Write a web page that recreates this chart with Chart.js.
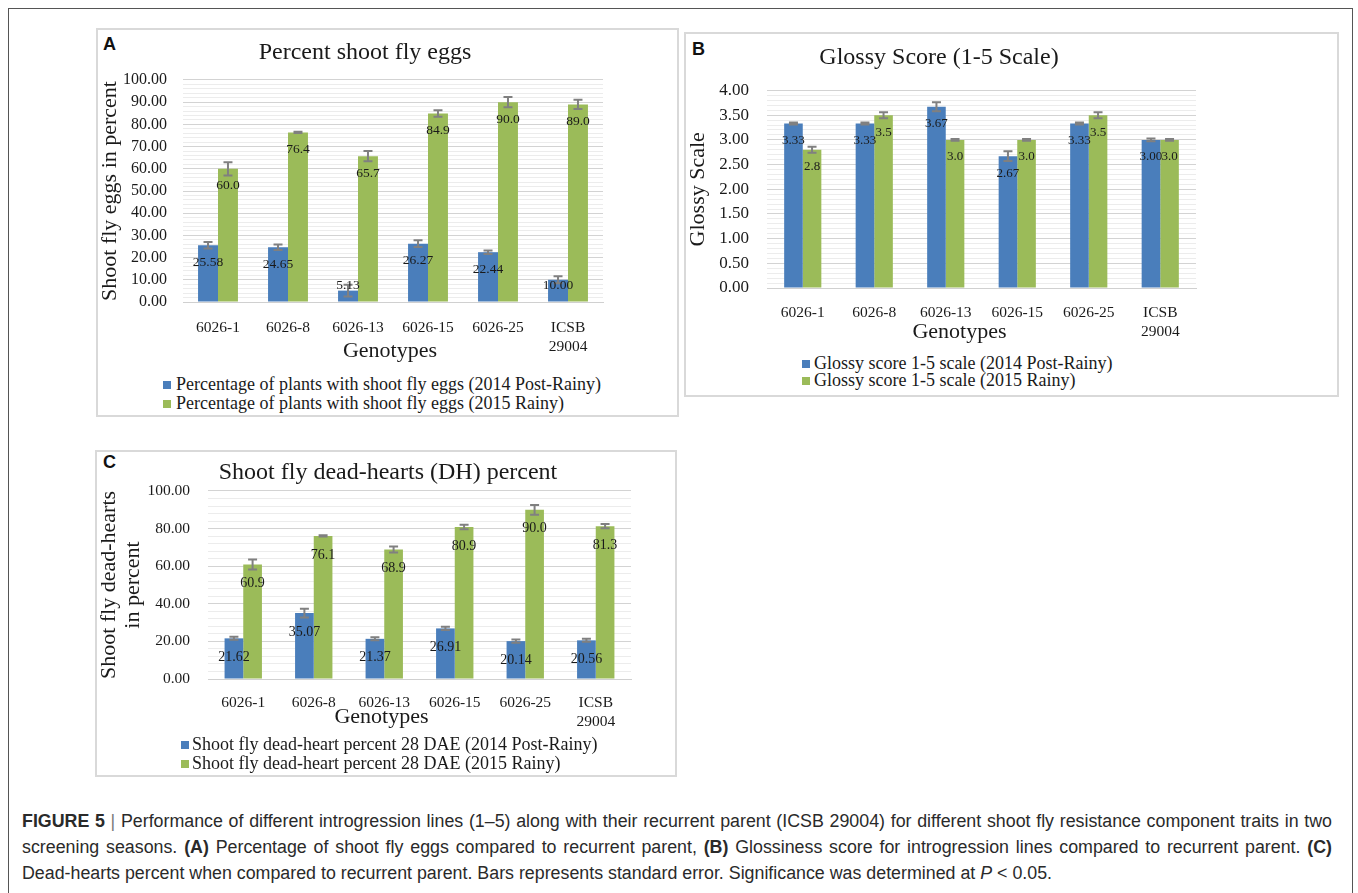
<!DOCTYPE html>
<html><head><meta charset="utf-8">
<script src="https://cdn.jsdelivr.net/npm/chart.js@4.4.1/dist/chart.umd.min.js"></script>
<style>
body{margin:0;background:#fff;width:1358px;height:893px;overflow:hidden;position:relative;font-family:"Liberation Serif","Times New Roman",serif;}
.frame{position:absolute;left:8px;top:8px;width:1345px;height:900px;border:1px solid #555;border-bottom:none;box-sizing:border-box;}
.box{position:absolute;border:2px solid #d9d9d9;box-sizing:border-box;}
.letter{position:absolute;font:bold 18px "Liberation Sans",Arial,sans-serif;color:#111;line-height:20px;}
canvas{position:absolute;}
.lg{position:absolute;color:#1a1a1a;white-space:nowrap;}
.sw{position:absolute;width:8px;height:8px;}
.cap{position:absolute;left:22px;height:28px;line-height:28px;font-family:"Liberation Sans",Arial,sans-serif;color:#2a2a2a;white-space:nowrap;font-size:18px;transform-origin:0 50%;}
.cap b{font-weight:bold;}
</style></head>
<body>
<div class="frame"></div>
<div class="box" style="left:96px;top:28px;width:583px;height:389px"></div>
<div class="box" style="left:684px;top:32px;width:655px;height:365px"></div>
<div class="box" style="left:95px;top:450px;width:582px;height:327px"></div>
<div class="letter" style="left:103px;top:34px">A</div>
<div class="letter" style="left:692px;top:39px">B</div>
<div class="letter" style="left:103px;top:452px">C</div>
<canvas id="cA"></canvas>
<canvas id="cB"></canvas>
<canvas id="cC"></canvas>
<div id="legends"></div>
<div id="caption"></div>
<script>
// ---------- DATA ----------
const categories = ['6026-1','6026-8','6026-13','6026-15','6026-25',['ICSB','29004']];

const eggs2014    = [25.58, 24.65, 5.13, 26.27, 22.44, 10.00];
const eggs2014Err = [1.5, 1.2, 2.6, 1.5, 0.8, 1.6];
const eggs2015    = [60.0, 76.4, 65.7, 84.9, 90.0, 89.0];
const eggs2015Err = [3.0, 0.3, 2.3, 1.5, 2.3, 2.1];

const glossy2014    = [3.33, 3.33, 3.67, 2.67, 3.33, 3.00];
const glossy2014Err = [0.02, 0.02, 0.09, 0.10, 0.02, 0.03];
const glossy2015    = [2.8, 3.5, 3.0, 3.0, 3.5, 3.0];
const glossy2015Err = [0.06, 0.06, 0.02, 0.02, 0.06, 0.02];

const dh2014    = [21.62, 35.07, 21.37, 26.91, 20.14, 20.56];
const dh2014Err = [0.8, 2.3, 0.8, 0.9, 0.9, 0.8];
const dh2015    = [60.9, 76.1, 68.9, 80.9, 90.0, 81.3];
const dh2015Err = [2.7, 0.3, 1.6, 1.2, 2.6, 1.1];

const ticksEggs   = {max: 100, minor: 2,   major: 10};
const ticksGlossy = {max: 4,   minor: 0.1, major: 0.5};
const ticksDH     = {max: 100, minor: 4,   major: 20};

const legendEggs   = ['Percentage of plants with shoot fly eggs (2014 Post-Rainy)','Percentage of plants with shoot fly eggs (2015 Rainy)'];
const legendGlossy = ['Glossy score 1-5 scale (2014 Post-Rainy)','Glossy score 1-5 scale (2015 Rainy)'];
const legendDH     = ['Shoot fly dead-heart percent 28 DAE (2014 Post-Rainy)','Shoot fly dead-heart percent 28 DAE (2015 Rainy)'];

// ---------- STYLE ----------
const SERIF = '"Liberation Serif","Times New Roman",serif';
const BLUE = '#4a7ebb', GREEN = '#9bbb59', TXT = '#1a1a1a';

const barExtras = {
  id: 'barExtras',
  afterDatasetsDraw(chart, args, o) {
    const ctx = chart.ctx, y = chart.scales.y;
    ctx.save();
    ctx.strokeStyle = '#808080'; ctx.lineWidth = 2;
    chart.data.datasets.forEach((ds, di) => {
      chart.getDatasetMeta(di).data.forEach((bar, i) => {
        const v = ds.data[i], e = ds.err[i];
        const t = y.getPixelForValue(v + e), b = y.getPixelForValue(v - e);
        ctx.beginPath();
        ctx.moveTo(bar.x, t); ctx.lineTo(bar.x, b);
        ctx.moveTo(bar.x - o.cap, t); ctx.lineTo(bar.x + o.cap, t);
        ctx.moveTo(bar.x - o.cap, b); ctx.lineTo(bar.x + o.cap, b);
        ctx.stroke();
      });
    });
    ctx.fillStyle = TXT; ctx.font = o.font + 'px ' + SERIF;
    ctx.textAlign = 'center'; ctx.textBaseline = 'middle';
    chart.data.datasets.forEach((ds, di) => {
      chart.getDatasetMeta(di).data.forEach((bar, i) => {
        const ly = Math.min(bar.y + o.drop, bar.base - o.rise);
        ctx.fillText(ds.data[i].toFixed(ds.dec), bar.x, ly);
      });
    });
    // x-axis title, placed relative to the plot area
    const xs = chart.scales.x, a = chart.chartArea;
    ctx.font = o.xTitleFont + 'px ' + SERIF;
    ctx.fillText(o.xTitle, (a.left + a.right) / 2 + o.xTitleShift, xs.bottom - o.xTitleFont * 0.6);
    ctx.restore();
  }
};

function makeChart(id, L, S) {
  const cv = document.getElementById(id);
  cv.width = L.cw; cv.height = L.ch;
  cv.style.left = L.cx + 'px'; cv.style.top = L.cy + 'px';
  const tLH = L.titleFont * 1.2;
  const tPadTop = L.titleY - L.cy - tLH / 2;
  const tPadBot = L.areaTop - (L.cy + tPadTop + tLH);
  const ytLH = L.yTitleFont * L.yTitleLH;
  const yTitlePad = L.yTitleX - L.cx - ytLH / 2;
  const xtLH = L.xTickFont * 1.2;
  const xTickPad = L.xTickY - L.areaBottom - xtLH / 2;
  const gLH = L.xTitleFont * 1.2;
  const xH = L.xTitleY + gLH / 2 - L.areaBottom;
  const isMajor = v => Math.abs(v / S.ticks.major - Math.round(v / S.ticks.major)) < 1e-6;
  return new Chart(cv, {
    type: 'bar',
    data: {
      labels: S.labels,
      datasets: S.sets.map(s => ({
        label: s.label, data: s.data, err: s.err, dec: s.dec,
        backgroundColor: s.color, borderWidth: 0,
        categoryPercentage: L.catPct, barPercentage: 1,
        xAxisID: 'x', yAxisID: 'y'
      }))
    },
    options: {
      responsive: false, animation: false, devicePixelRatio: 1,
      layout: {padding: {left: 0, right: 0, top: 0, bottom: L.cy + L.ch - (L.areaBottom + xH)}},
      plugins: {
        legend: {display: false}, tooltip: {enabled: false},
        title: {display: true, text: S.title, color: TXT,
          font: {family: SERIF, size: L.titleFont, weight: 'normal'},
          padding: {top: tPadTop, bottom: tPadBot}},
        barExtras: {cap: 4.5, font: L.labelFont, drop: L.drop, rise: L.rise,
          xTitle: 'Genotypes', xTitleFont: L.xTitleFont, xTitleShift: L.xTitleShift}
      },
      scales: {
        x: {
          grid: {display: false}, border: {color: '#d0d0d0', width: 1},
          ticks: {color: TXT, font: {family: SERIF, size: L.xTickFont}, padding: xTickPad, maxRotation: 0, autoSkip: false},
          title: {display: false},
          afterFit: s => { s.height = xH; }
        },
        y: {
          min: 0, max: S.ticks.max,
          ticks: {stepSize: S.ticks.minor, autoSkip: false, maxTicksLimit: 1000, color: TXT,
            font: {family: SERIF, size: L.yTickFont}, padding: L.areaLeft - L.yTickRight,
            callback: v => isMajor(v) ? Number(v).toFixed(2) : ''},
          grid: {drawTicks: false, lineWidth: 1, color: c => (c.tick && isMajor(c.tick.value)) ? '#d3d3d3' : '#ececec'},
          border: {display: false},
          title: {display: true, text: S.yTitle, color: TXT,
            font: {family: SERIF, size: L.yTitleFont, lineHeight: L.yTitleLH}, padding: {top: yTitlePad, bottom: 0}},
          afterFit: s => { s.width = L.areaLeft - L.cx; }
        },
        pad: {
          type: 'linear', position: 'right', display: true,
          grid: {display: false}, border: {display: false}, ticks: {display: false},
          afterFit: s => { s.width = L.cx + L.cw - L.areaRight; }
        }
      }
    },
    plugins: [barExtras]
  });
}

function addLegend(items, colors, G) {
  const host = document.getElementById('legends');
  items.forEach((t, i) => {
    const cy = G.rows[i];
    const sw = document.createElement('div');
    sw.className = 'sw'; sw.style.background = colors[i];
    sw.style.left = G.sq + 'px'; sw.style.top = (cy - 4) + 'px';
    host.appendChild(sw);
    const d = document.createElement('div');
    d.className = 'lg'; d.textContent = t;
    d.style.left = G.tx + 'px'; d.style.top = (cy - G.font * 0.6) + 'px';
    d.style.fontSize = G.font + 'px'; d.style.lineHeight = (G.font * 1.2) + 'px';
    host.appendChild(d);
  });
}

// ---------- PANEL A ----------
makeChart('cA',
  {cx: 96, cy: 28, cw: 538, ch: 340, areaLeft: 183, areaRight: 603, areaTop: 80, areaBottom: 302,
   titleFont: 24, titleY: 53, yTitleFont: 22, yTitleLH: 1.2, yTitleX: 110, yTickRight: 167, yTickFont: 16,
   xTickFont: 15.5, xTickY: 320, xTitleFont: 22, xTitleY: 351, xTitleShift: -3,
   catPct: 0.57, labelFont: 13.5, drop: 17, rise: 16},
  {labels: categories, title: 'Percent shoot fly eggs', yTitle: 'Shoot fly eggs in percent', ticks: ticksEggs,
   sets: [{label: legendEggs[0], data: eggs2014, err: eggs2014Err, color: BLUE, dec: 2},
          {label: legendEggs[1], data: eggs2015, err: eggs2015Err, color: GREEN, dec: 1}]});
addLegend(legendEggs, [BLUE, GREEN], {sq: 163, tx: 176, rows: [385, 404], font: 18});

// ---------- PANEL B ----------
makeChart('cB',
  {cx: 678, cy: 32, cw: 522, ch: 318, areaLeft: 767, areaRight: 1196, areaTop: 90.5, areaBottom: 288,
   titleFont: 24, titleY: 58, yTitleFont: 22, yTitleLH: 1.2, yTitleX: 698, yTickRight: 749, yTickFont: 17,
   xTickFont: 15.5, xTickY: 305, xTitleFont: 22, xTitleY: 332, xTitleShift: -22,
   catPct: 0.52, labelFont: 13, drop: 17, rise: 14},
  {labels: categories, title: 'Glossy Score (1-5 Scale)', yTitle: 'Glossy Scale', ticks: ticksGlossy,
   sets: [{label: legendGlossy[0], data: glossy2014, err: glossy2014Err, color: BLUE, dec: 2},
          {label: legendGlossy[1], data: glossy2015, err: glossy2015Err, color: GREEN, dec: 1}]});
addLegend(legendGlossy, [BLUE, GREEN], {sq: 802, tx: 814, rows: [364, 381], font: 18});

// ---------- PANEL C ----------
makeChart('cC',
  {cx: 95, cy: 450, cw: 586, ch: 285, areaLeft: 208, areaRight: 631, areaTop: 491, areaBottom: 679,
   titleFont: 24, titleY: 473, yTitleFont: 22, yTitleLH: 1.1, yTitleX: 109, yTickRight: 190, yTickFont: 15.5,
   xTickFont: 15.5, xTickY: 695, xTitleFont: 22, xTitleY: 717, xTitleShift: -38,
   catPct: 0.53, labelFont: 14, drop: 19, rise: 16},
  {labels: categories, title: 'Shoot fly dead-hearts (DH) percent', yTitle: ['Shoot fly dead-hearts', 'in percent'], ticks: ticksDH,
   sets: [{label: legendDH[0], data: dh2014, err: dh2014Err, color: BLUE, dec: 2},
          {label: legendDH[1], data: dh2015, err: dh2015Err, color: GREEN, dec: 1}]});
addLegend(legendDH, [BLUE, GREEN], {sq: 181, tx: 192, rows: [745, 764], font: 18});

// ---------- CAPTION ----------
const captionLines = [
  '<b>FIGURE 5</b> <span style="color:#777">|</span> Performance of different introgression lines (1–5) along with their recurrent parent (ICSB 29004) for different shoot fly resistance component traits in two',
  'screening seasons. <b>(A)</b> Percentage of shoot fly eggs compared to recurrent parent, <b>(B)</b> Glossiness score for introgression lines compared to recurrent parent. <b>(C)</b>',
  'Dead-hearts percent when compared to recurrent parent. Bars represents standard error. Significance was determined at <i>P</i> &lt; 0.05.'
];
const capCenters = [821, 847, 873];
const capHost = document.getElementById('caption');
const capDivs = captionLines.map((h, i) => {
  const d = document.createElement('div');
  d.className = 'cap'; d.innerHTML = h; d.style.top = (capCenters[i] - 14) + 'px';
  capHost.appendChild(d); return d;
});
// condensed look: shrink horizontally so line 3 ends where the reference line ends
const w3 = capDivs[2].getBoundingClientRect().width;
const sx = 1030 / w3;
capDivs.forEach(d => d.style.transform = 'scaleX(' + sx + ')');
[0, 1].forEach(i => {
  const d = capDivs[i];
  const w = d.getBoundingClientRect().width / sx;
  const spaces = (d.textContent.match(/ /g) || []).length;
  d.style.wordSpacing = ((1310 / sx - w) / spaces) + 'px';
});
</script>
</body></html>
